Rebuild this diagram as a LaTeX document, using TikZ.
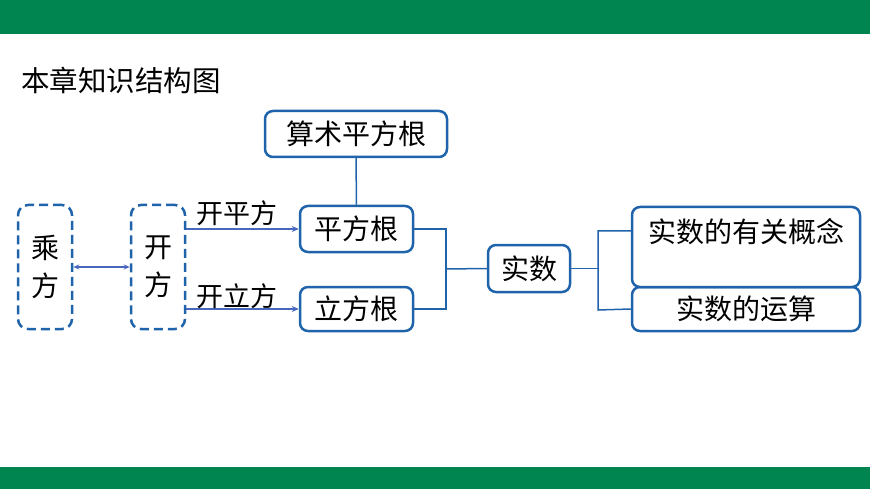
\documentclass[tikz,border=0pt]{standalone}
\usepackage{fontspec}
\newfontfamily\cjk{Noto Sans CJK SC}
\usetikzlibrary{positioning, arrows.meta}
\definecolor{bargreen}{RGB}{0,133,80}
\definecolor{boxblue}{RGB}{31,100,170}
\definecolor{linkblue}{RGB}{72,104,190}

\begin{document}
\begin{tikzpicture}[x=1pt, y=-1pt,
    concept/.style={draw=boxblue, line width=2.5pt, rounded corners=8pt, fill=white,
      font=\cjk\fontsize{28}{32}\selectfont, inner sep=0pt, minimum height=46pt},
    opbox/.style={draw=boxblue, line width=2.5pt, dash pattern=on 9pt off 5pt,
      rounded corners=10pt, minimum width=54pt, minimum height=124pt, inner sep=0pt,
      align=center, font=\cjk\fontsize{28}{38}\selectfont},
    link/.style={draw=boxblue, line width=1.5pt},
    op/.style={draw=linkblue, line width=1.2pt, -{Stealth[length=7pt, width=6pt]}},
    oplabel/.style={font=\cjk\fontsize{27}{30}\selectfont, inner sep=0pt},
  ]
    \useasboundingbox (0,0) rectangle (870,489);
    \fill[bargreen] (0,0) rectangle (870,34);
    \fill[bargreen] (0,467) rectangle (870,489);

    \node[font=\cjk\fontsize{28.5}{32}\selectfont, anchor=west, inner sep=0pt] (title) at (21,80) {本章知识结构图};

    % left part
    \node[opbox] (power) at (45,267) {乘\\方};
    \node[opbox] (root) at (158,267) {开\\方};
    \draw[linkblue, line width=1.2pt, {Stealth[length=6pt, width=5pt]}-{Stealth[length=6pt, width=5pt]}] (power) -- (root);

    % middle part
    \node[concept, minimum width=182pt] (arith) at (356,134) {算术平方根};
    \node[concept, minimum width=113pt] (square) at (356.5,229) {平方根};
    \node[concept, minimum width=113pt, minimum height=44pt] (cube) at (356.5,309) {立方根};
    \node[concept, minimum width=82pt, minimum height=47pt] (real) at (529,268.5) {实数};
    \draw[link] (arith) -- (square);

    \draw[op] (root.east |- square.west) -- (square.west);
    \draw[op] (root.east |- cube.west) -- (cube.west);
    \node[oplabel] (sqlabel) at (237,213) {开平方};
    \node[oplabel] (culabel) at (237,296) {开立方};

    \coordinate (leftjoin) at (446,269);
    \draw[link] (square.east) -| (leftjoin |- cube.east) -- (cube.east);
    \draw[link] (leftjoin) -- (real.west);

    % right part
    \node[concept, minimum width=228pt, minimum height=44pt] (calc) at (746,309) {实数的运算};
    \node[concept, minimum width=228pt, text height=35pt, text depth=45pt] (about) at (746,247) {实数的有关概念};

    \coordinate (rtop) at (598,231);
    \coordinate (rbot) at (598,310);
    \draw[link] (real.east) -- (real.east -| rtop);
    \draw[link] (about.west |- rtop) -- (rtop) -- (rbot) -- (calc.west);
\end{tikzpicture}
\end{document}
